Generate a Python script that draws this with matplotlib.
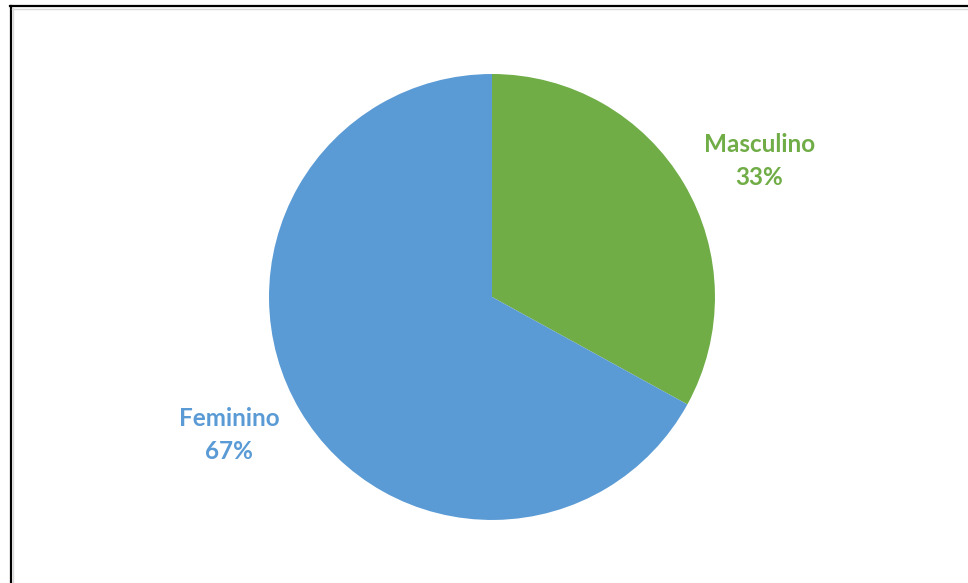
import matplotlib.pyplot as plt
from matplotlib.lines import Line2D

labels = ['Masculino', 'Feminino']
values = [33, 67]
colors = ['#70AD47', '#5B9BD5']

plt.rcParams['font.family'] = ['Lato', 'DejaVu Sans']

fig = plt.figure(figsize=(9.68, 5.83), dpi=100)
ax = fig.add_axes([0.2779, 0.1081, 0.4607, 0.765])

texts = [f'{l}\n{v}%' for l, v in zip(labels, values)]
wedges, lbls = ax.pie(values, labels=texts, colors=colors, startangle=90,
                      counterclock=False, labeldistance=1.34,
                      wedgeprops=dict(linewidth=0))
# label positions (x, y in pie radius units) as in the original
label_pos = [(1.20, 0.61), (-1.18, -0.62)]
for t, c, p in zip(lbls, colors, label_pos):
    t.set_position(p)
    t.set_ha('center')
    t.set_va('center')
    t.set_color(c)
    t.set_fontsize(17.5)
    t.set_fontweight('bold')
    t.set_linespacing(1.5)
ax.set_xlim(-1, 1)
ax.set_ylim(-1, 1)
ax.set_aspect('equal')

# frame lines (left and top edges only visible)
fig.add_artist(Line2D([10.5 / 968, 10.5 / 968], [0, 1 - 6 / 583], transform=fig.transFigure,
                      color='black', lw=1.6))
fig.add_artist(Line2D([10 / 968, 1], [1 - 6 / 583, 1 - 6 / 583], transform=fig.transFigure,
                      color='black', lw=1.6))
fig.add_artist(Line2D([12.5 / 968, 12.5 / 968], [0, 1 - 8 / 583], transform=fig.transFigure,
                      color='#d9d9d9', lw=1))
fig.add_artist(Line2D([12 / 968, 1], [1 - 8.5 / 583, 1 - 8.5 / 583], transform=fig.transFigure,
                      color='#d9d9d9', lw=1))

fig.savefig('out.png', dpi=100)
